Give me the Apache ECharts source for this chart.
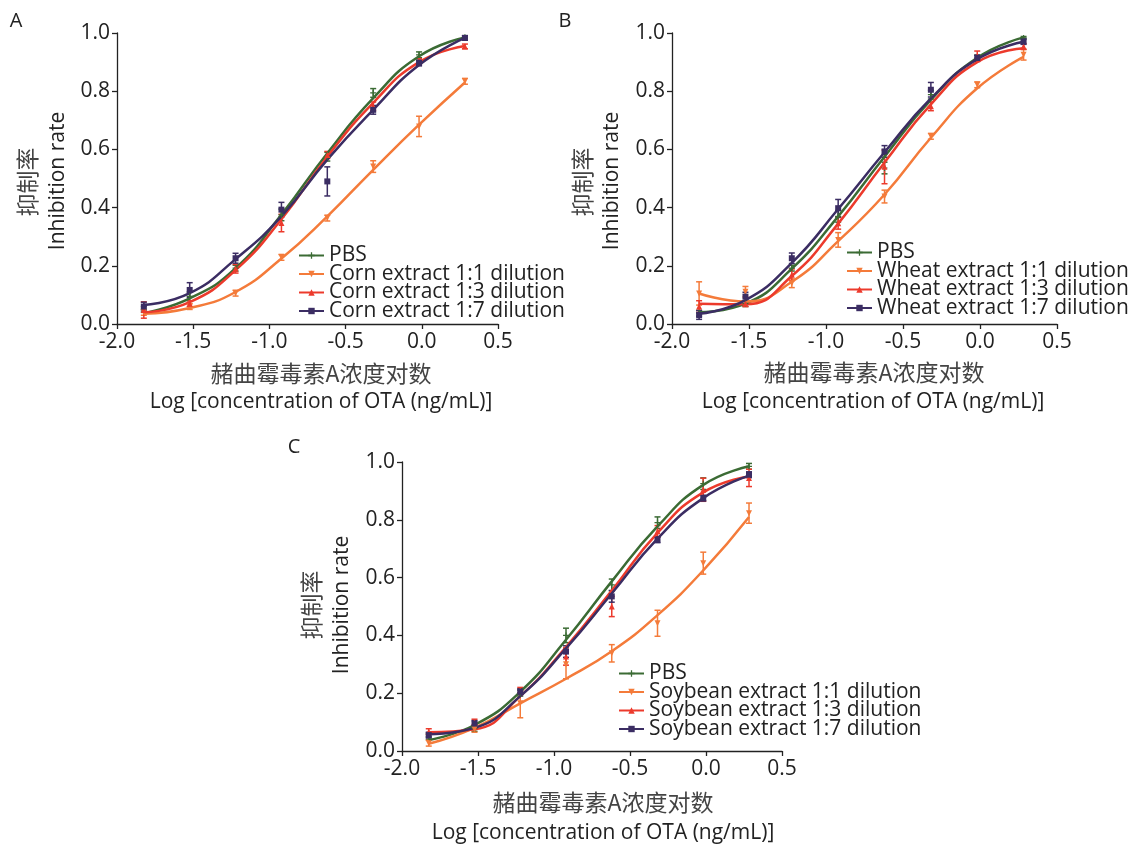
<!DOCTYPE html>
<html><head><meta charset="utf-8">
<script src="https://cdn.jsdelivr.net/npm/echarts@6/dist/echarts.min.js"></script>
<style>html,body{margin:0;padding:0;background:#fff}#c{width:1136px;height:844px}</style>
</head><body><div id="c"></div>
<script>
// log10 of OTA concentration (ng/mL)
const logConc = [-1.824, -1.523, -1.222, -0.921, -0.620, -0.319, -0.018, 0.283];
const xTickLabels = ['-2.0', '-1.5', '-1.0', '-0.5', '0.0', '0.5'];
const yTickLabels = ['0.0', '0.2', '0.4', '0.6', '0.8', '1.0'];
const panelLetters = ['A', 'B', 'C'];
const xTitleCn = '赭曲霉毒素A浓度对数';
const xTitleEn = 'Log [concentration of OTA (ng/mL)]';
const yTitleCn = '抑制率';
const yTitleEn = 'Inhibition rate';

const namesA = ['PBS', 'Corn extract 1:1 dilution', 'Corn extract 1:3 dilution', 'Corn extract 1:7 dilution'];
const namesB = ['PBS', 'Wheat extract 1:1 dilution', 'Wheat extract 1:3 dilution', 'Wheat extract 1:7 dilution'];
const namesC = ['PBS', 'Soybean extract 1:1 dilution', 'Soybean extract 1:3 dilution', 'Soybean extract 1:7 dilution'];

// Panel A (corn): measured mean, error (half-width), fitted curve
const cornPBS = [0.050, 0.095, 0.192, 0.375, 0.575, 0.794, 0.925, 0.985];
const cornPBSErr = [0.010, 0.015, 0.010, 0.020, 0.015, 0.015, 0.010, 0.005];
const cornPBSFit = [0.037, 0.088, 0.192, 0.376, 0.587, 0.776, 0.920, 0.985];
const corn11 = [0.040, 0.060, 0.106, 0.229, 0.364, 0.541, 0.679, 0.834];
const corn11Err = [0.010, 0.010, 0.010, 0.010, 0.010, 0.020, 0.035, 0.010];
const corn11Fit = [0.035, 0.055, 0.110, 0.225, 0.370, 0.530, 0.685, 0.830];
const corn13 = [0.048, 0.070, 0.190, 0.347, 0.581, 0.748, 0.902, 0.954];
const corn13Err = [0.028, 0.010, 0.015, 0.030, 0.012, 0.015, 0.010, 0.008];
const corn13Fit = [0.040, 0.075, 0.185, 0.360, 0.575, 0.760, 0.900, 0.955];
const corn17 = [0.060, 0.117, 0.226, 0.393, 0.490, 0.736, 0.897, 0.983];
const corn17Err = [0.015, 0.025, 0.017, 0.025, 0.050, 0.015, 0.010, 0.008];
const corn17Fit = [0.065, 0.106, 0.223, 0.370, 0.565, 0.736, 0.890, 0.983];

// Panel B (wheat)
const wheatPBS = [0.037, 0.070, 0.192, 0.370, 0.536, 0.788, 0.914, 0.983];
const wheatPBSErr = [0.010, 0.010, 0.010, 0.020, 0.020, 0.015, 0.010, 0.005];
const wheatPBSFit = [0.040, 0.070, 0.190, 0.370, 0.575, 0.770, 0.915, 0.985];
const wheat11 = [0.105, 0.111, 0.140, 0.289, 0.438, 0.645, 0.822, 0.925];
const wheat11Err = [0.040, 0.018, 0.015, 0.025, 0.022, 0.010, 0.010, 0.018];
const wheat11Fit = [0.105, 0.077, 0.145, 0.285, 0.445, 0.640, 0.810, 0.918];
const wheat13 = [0.060, 0.070, 0.169, 0.346, 0.540, 0.748, 0.920, 0.954];
const wheat13Err = [0.020, 0.010, 0.020, 0.020, 0.058, 0.015, 0.018, 0.010];
const wheat13Fit = [0.070, 0.068, 0.165, 0.345, 0.555, 0.755, 0.900, 0.948];
const wheat17 = [0.031, 0.094, 0.226, 0.398, 0.593, 0.805, 0.914, 0.971];
const wheat17Err = [0.015, 0.015, 0.018, 0.030, 0.020, 0.025, 0.010, 0.010];
const wheat17Fit = [0.035, 0.082, 0.210, 0.395, 0.590, 0.775, 0.910, 0.970];

// Panel C (soybean)
const soyPBS = [0.050, 0.078, 0.200, 0.400, 0.575, 0.790, 0.925, 0.985];
const soyPBSErr = [0.010, 0.010, 0.010, 0.025, 0.020, 0.020, 0.020, 0.010];
const soyPBSFit = [0.038, 0.090, 0.205, 0.385, 0.587, 0.777, 0.921, 0.985];
const soy11 = [0.027, 0.075, 0.165, 0.300, 0.338, 0.442, 0.650, 0.823];
const soy11Err = [0.010, 0.010, 0.050, 0.050, 0.030, 0.045, 0.038, 0.035];
const soy11Fit = [0.025, 0.080, 0.165, 0.250, 0.345, 0.470, 0.625, 0.810];
const soy13 = [0.067, 0.100, 0.210, 0.327, 0.500, 0.760, 0.904, 0.945];
const soy13Err = [0.010, 0.010, 0.010, 0.030, 0.035, 0.020, 0.040, 0.030];
const soy13Fit = [0.065, 0.075, 0.190, 0.360, 0.555, 0.755, 0.895, 0.950];
const soy17 = [0.055, 0.095, 0.205, 0.344, 0.535, 0.731, 0.875, 0.956];
const soy17Err = [0.010, 0.010, 0.010, 0.020, 0.020, 0.010, 0.010, 0.010];
const soy17Fit = [0.058, 0.080, 0.190, 0.355, 0.545, 0.735, 0.875, 0.953];

const colors = ['#3b6b34', '#f47b3a', '#ec3a2c', '#3b2d63'];
const plusPath = 'path://M4,0L6,0L6,4L10,4L10,6L6,6L6,10L4,10L4,6L0,6L0,4L4,4Z';
const symbols = [plusPath, 'triangle', 'triangle', 'rect'];
const rotates = [0, 180, 0, 0];

const panels = [
  { names: namesA, mean: [cornPBS, corn11, corn13, corn17], err: [cornPBSErr, corn11Err, corn13Err, corn17Err], fit: [cornPBSFit, corn11Fit, corn13Fit, corn17Fit] },
  { names: namesB, mean: [wheatPBS, wheat11, wheat13, wheat17], err: [wheatPBSErr, wheat11Err, wheat13Err, wheat17Err], fit: [wheatPBSFit, wheat11Fit, wheat13Fit, wheat17Fit] },
  { names: namesC, mean: [soyPBS, soy11, soy13, soy17], err: [soyPBSErr, soy11Err, soy13Err, soy17Err], fit: [soyPBSFit, soy11Fit, soy13Fit, soy17Fit] }
];

const grids = [
  { left: 117, top: 33, width: 381, height: 291 },
  { left: 672, top: 33, width: 385, height: 291 },
  { left: 402, top: 462, width: 380, height: 289 }
];
const legendPos = [
  { left: 298, top: 245 },
  { left: 846, top: 242 },
  { left: 618, top: 663 }
];
const titlePos = [
  { cn: [321, 373], en: [321, 402], ycn: [27, 182], yen: [58, 181], letter: [16, 21] },
  { cn: [874, 372], en: [873, 402], ycn: [582, 182], yen: [612, 181], letter: [565, 21] },
  { cn: [603, 802], en: [603, 833], ycn: [311, 605], yen: [342, 605], letter: [294, 447] }
];

const FONT = '"Open Sans", "Noto Sans", sans-serif';
const CJK = '"Noto Sans CJK SC", sans-serif';

function errRender(params, api) {
  const x = api.value(0), y = api.value(1), e = api.value(2);
  const top = api.coord([x, y + e]);
  const bot = api.coord([x, y - e]);
  const w = 3;
  const style = { stroke: api.visual('color'), lineWidth: 1.5 };
  return {
    type: 'group',
    children: [
      { type: 'line', shape: { x1: top[0], y1: top[1], x2: bot[0], y2: bot[1] }, style: style },
      { type: 'line', shape: { x1: top[0] - w, y1: top[1], x2: top[0] + w, y2: top[1] }, style: style },
      { type: 'line', shape: { x1: bot[0] - w, y1: bot[1], x2: bot[0] + w, y2: bot[1] }, style: style }
    ]
  };
}

const series = [];
const xAxes = [], yAxes = [], legends = [], graphics = [];

panels.forEach((p, pi) => {
  xAxes.push({
    gridIndex: pi, type: 'value', min: -2, max: 0.5, interval: 0.5,
    axisLine: { onZero: false, lineStyle: { color: '#222', width: 1.3 } },
    axisTick: { length: 5, lineStyle: { color: '#222', width: 1.3 } },
    splitLine: { show: false },
    axisLabel: { color: '#222', fontSize: 21, fontFamily: FONT, margin: 8, formatter: (v, i) => xTickLabels[i] }
  });
  yAxes.push({
    gridIndex: pi, type: 'value', min: 0, max: 1, interval: 0.2,
    axisLine: { show: true, onZero: false, lineStyle: { color: '#222', width: 1.3 } },
    axisTick: { show: true, length: 5, lineStyle: { color: '#222', width: 1.3 } },
    splitLine: { show: false },
    axisLabel: { color: '#222', fontSize: 21, fontFamily: FONT, margin: 7, formatter: (v, i) => yTickLabels[i] }
  });
  legends.push({
    data: p.names, orient: 'vertical', left: legendPos[pi].left, top: legendPos[pi].top,
    padding: 0, itemGap: -2.5, itemWidth: 25, itemHeight: 8, selectedMode: false,
    textStyle: { fontSize: 21, lineHeight: 19, fontFamily: FONT, color: '#222' }
  });
  for (let s = 0; s < 4; s++) {
    const fitData = logConc.map((x, i) => [x, p.fit[s][i]]);
    const meanData = logConc.map((x, i) => [x, p.mean[s][i]]);
    const errData = logConc.map((x, i) => [x, p.mean[s][i], p.err[s][i]]);
    series.push({
      name: p.names[s], type: 'line', xAxisIndex: pi, yAxisIndex: pi,
      data: fitData, smooth: 0.5, showSymbol: false,
      symbol: symbols[s], symbolRotate: rotates[s], symbolSize: 7,
      lineStyle: { color: colors[s], width: 2.5 }, itemStyle: { color: colors[s] },
      z: 3, silent: true
    });
    series.push({
      name: 'err' + pi + '_' + s, type: 'custom', xAxisIndex: pi, yAxisIndex: pi,
      data: errData, renderItem: errRender, encode: { x: 0, y: 1 },
      itemStyle: { color: colors[s] }, z: 2, silent: true
    });
    series.push({
      name: 'pt' + pi + '_' + s, type: 'scatter', xAxisIndex: pi, yAxisIndex: pi,
      data: meanData, symbol: symbols[s], symbolRotate: rotates[s], symbolSize: 6,
      itemStyle: { color: colors[s], opacity: 1 }, z: 4, silent: true
    });
  }
  const tp = titlePos[pi];
  graphics.push(
    { type: 'text', x: tp.letter[0], y: tp.letter[1], style: { text: panelLetters[pi], fontSize: 20, fontFamily: FONT, fill: '#222', align: 'center', verticalAlign: 'middle' } },
    { type: 'text', x: tp.cn[0], y: tp.cn[1], style: { text: xTitleCn, fontSize: 23, fontFamily: CJK, fill: '#444', align: 'center', verticalAlign: 'middle' } },
    { type: 'text', x: tp.en[0], y: tp.en[1], style: { text: xTitleEn, fontSize: 21, fontFamily: FONT, fill: '#222', align: 'center', verticalAlign: 'middle' } },
    { type: 'text', x: tp.ycn[0], y: tp.ycn[1], rotation: Math.PI / 2, style: { text: yTitleCn, fontSize: 23, fontFamily: CJK, fill: '#444', align: 'center', verticalAlign: 'middle' } },
    { type: 'text', x: tp.yen[0], y: tp.yen[1], rotation: Math.PI / 2, style: { text: yTitleEn, fontSize: 21, fontFamily: FONT, fill: '#222', align: 'center', verticalAlign: 'middle' } }
  );
});

const chart = echarts.init(document.getElementById('c'), null, { renderer: 'canvas' });
chart.setOption({
  animation: false,
  backgroundColor: '#fff',
  grid: grids,
  xAxis: xAxes,
  yAxis: yAxes,
  legend: legends,
  series: series,
  graphic: graphics
});
</script>
</body></html>
